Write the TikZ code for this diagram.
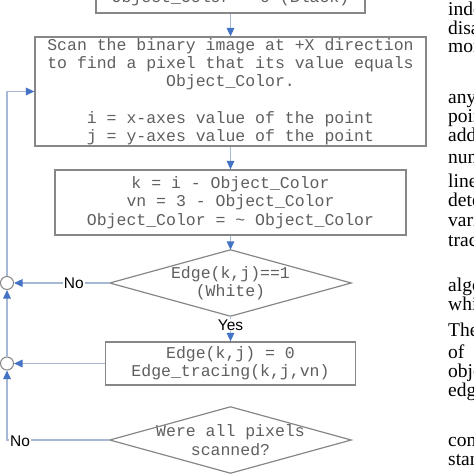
\documentclass[tikz,border=0pt]{standalone}
\usepackage{fontspec}
\usetikzlibrary{arrows.meta}
\newfontfamily\codefont{Liberation Mono}
\newfontfamily\labfont{Liberation Sans}
\newfontfamily\paperfont{Liberation Serif}
\definecolor{linecol}{RGB}{165,185,212}
\definecolor{arrowcol}{RGB}{68,114,196}
\definecolor{boxcol}{RGB}{135,135,135}
\definecolor{codecol}{RGB}{95,95,95}
\begin{document}
\begin{tikzpicture}[x=1pt,y=-1pt,
  box/.style={draw=boxcol,line width=1.2pt,inner sep=0pt,align=center,
    font=\codefont\fontsize{16.5}{18.3}\selectfont,text=codecol},
  dtext/.style={inner sep=0pt,align=center,
    font=\codefont\fontsize{16.5}{18.3}\selectfont,text=codecol},
  diam/.style={draw=boxcol,line width=1.2pt},
  arr/.style={draw=linecol,line width=1.4pt,-{Triangle[length=8.5pt,width=7.5pt,color=arrowcol]}},
  lab/.style={font=\labfont\fontsize{15.5}{18}\selectfont,fill=white,inner sep=1pt,text=black},
  junc/.style={circle,draw=boxcol,line width=1pt,minimum size=13pt,inner sep=0pt,fill=white},
  para/.style={anchor=base west,inner sep=0pt,font=\paperfont\fontsize{19.5}{20}\selectfont,text=black}]
\useasboundingbox (0,0) rectangle (474,474);
\fill[white] (0,0) rectangle (474,474);

\node[box,minimum width=269pt,minimum height=30pt] (start) at (230.5,-2) {Object\_Color = 0 (Black)};
\node[box,minimum width=391pt,minimum height=109pt] (scan) at (230.5,91.5)
  {Scan the binary image at +X direction\\to find a pixel that its value equals\\Object\_Color.\\[18.3pt]i = x-axes value of the point\\j = y-axes value of the point};
\node[box,minimum width=351pt,minimum height=65pt] (upd) at (230.5,202.5)
  {k = i - Object\_Color\\vn = 3 - Object\_Color\\Object\_Color = \textasciitilde{} Object\_Color};
\node[dtext,minimum width=241pt,minimum height=66pt] (edge) at (230.5,283) {Edge(k,j)==1\\(White)};
\draw[diam] (edge.north) -- (edge.east) -- (edge.south) -- (edge.west) -- cycle;
\node[box,minimum width=250pt,minimum height=43pt] (trace) at (230.5,363.5) {Edge(k,j) = 0\\Edge\_tracing(k,j,vn)};
\node[dtext,minimum width=241pt,minimum height=66pt] (done) at (230.5,440) {Were all pixels\\scanned?};
\draw[diam] (done.north) -- (done.east) -- (done.south) -- (done.west) -- cycle;

\node[junc] (j1) at (7,283) {};
\node[junc] (j2) at (7,363.5) {};
\coordinate (corner) at (7,440);

\draw[arr] (start.south) -- (scan.north);
\draw[arr] (scan.south) -- (upd.north);
\draw[arr] (upd.south) -- (edge.north);
\draw[arr] (edge.south) -- node[lab,pos=0.35] (yes) {Yes} (trace.north);
\draw[arr] (edge.west) -- node[lab,pos=0.375] (no1) {No} (j1.east);
\draw[arr] (trace.west) -- (j2.east);
\draw[arr] (j2.north) -- (j1.south);
\draw[arr] (j1.north) |- (scan.west);
\draw[arr] (done.west) -- (corner) -- (j2.south);
\node[lab] (no2) at (20,441) {No};

\foreach \w/\y [count=\i] in {inde/15,disa/34,mor/52,any/103,poin/122,add/141,num/163,line/187,dete/206,vari/226,trac/246,algo/291,whi/310,The/336,of/358,obje/377,edge/396,com/446,stan/465}
  \node[para] (p\i) at (448,\y) {\w};
\end{tikzpicture}
\end{document}
